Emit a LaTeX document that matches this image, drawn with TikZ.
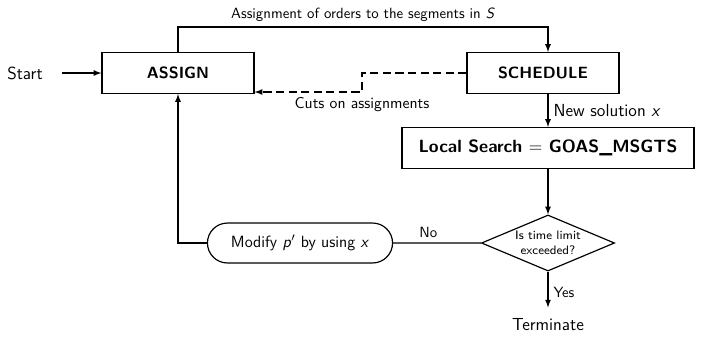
\documentclass[tikz,border=0pt]{standalone}
\usepackage{tikz}
\usetikzlibrary{shapes.geometric}
\usetikzlibrary{shapes.misc}
\usetikzlibrary{arrows}
\usepackage{amsmath,amssymb}

\begin{document}
\begin{tikzpicture}[thick,>=latex,x=0.676pt,y=-0.676pt,font=\sffamily,
  block/.style={draw,rectangle,minimum width=102.8pt,minimum height=27.7pt,font=\sffamily\bfseries\fontsize{11}{13}\selectfont},
  decision/.style={draw,diamond,aspect=2.4,minimum width=90pt,minimum height=37.9pt,inner sep=1pt,align=center,font=\sffamily\fontsize{8.3}{10}\selectfont},
  terminal/.style={draw,rounded rectangle,minimum width=131.8pt,minimum height=27pt,font=\sffamily\fontsize{11}{13}\selectfont},
  bigtext/.style={font=\sffamily\fontsize{11.8}{14}\selectfont},
  cuts/.style={dash pattern=on 5.5pt off 3pt}]
\useasboundingbox (0,0) rectangle (709,336);
\node [block] (assign) at (178,73) {ASSIGN};
\node [block] (schedule) at (543,73) {SCHEDULE};
\node [block,minimum width=197.4pt,font=\sffamily\bfseries\large] (ls) at (548,148) {Local Search $=$ GOAS\_MSGTS};
\node [decision] (check) at (548,243) {Is time limit\\exceeded?};
\node [terminal] (modify) at (300,243) {Modify \textit{p}$'$ by using \textit{x}};
\node [bigtext] (start) at (25,73) {Start};
\node [bigtext] (term) at (548,325) {Terminate};
\coordinate (topbend) at (548,27);
\coordinate (cutbend) at (362,92);

\draw [->,shorten <=9pt] (start.east) -- (assign.west);
\draw [->] (assign.north) |- (topbend) node [pos=0.75,above] {Assignment of orders to the segments in \textit{S}} -- (ls |- schedule.north);
\draw [->,cuts] (schedule.west) -| (cutbend) -- (cutbend -| assign.east);
\node [below,font=\sffamily\fontsize{10.6}{13}\selectfont] (cuts) at (cutbend) {Cuts on assignments};
\draw [->] (ls |- schedule.south) -- (ls.north) node [midway,right,bigtext] {New solution \textit{x}};
\draw [->] (ls) -- (check);
\draw [->,shorten >=4pt] (check) -- (term) node [midway,right] {Yes};
\draw (check) -- (modify) node [pos=0.6,above] {No};
\draw [->] (modify.west) -| (assign.south);
\end{tikzpicture}
\end{document}
